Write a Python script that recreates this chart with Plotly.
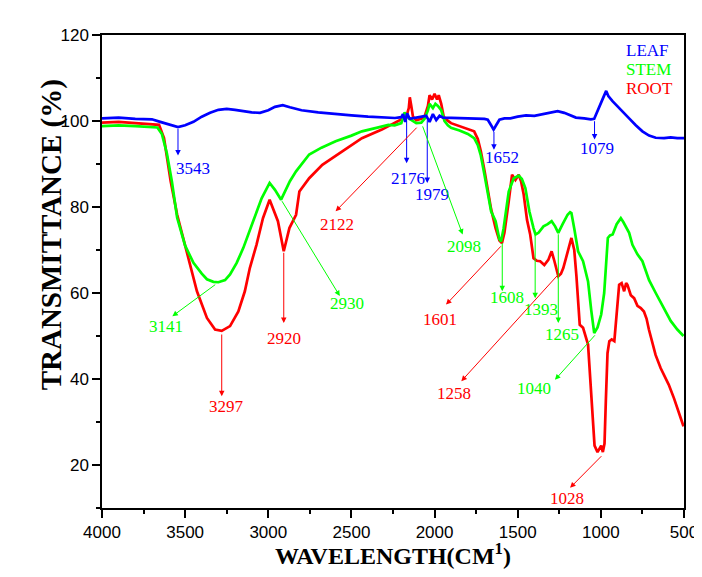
import plotly.graph_objects as go

# ---------------- data ----------------
leaf_wn = [4000, 3900, 3800, 3700, 3650, 3600, 3543, 3500, 3450, 3400, 3350, 3300, 3250, 3200,
           3150, 3100, 3050, 3000, 2960, 2913, 2870, 2800, 2700, 2600, 2500, 2400, 2300, 2238,
           2200, 2190, 2176, 2165, 2150, 2100, 2050, 2030, 2010, 1990, 1970, 1950, 1900, 1800,
           1700, 1680, 1660, 1645, 1630, 1610, 1580, 1544, 1500, 1450, 1400, 1350, 1300, 1260,
           1220, 1180, 1150, 1100, 1060, 1040, 1010, 985, 968, 955, 930, 909, 870, 830, 790,
           750, 710, 670, 620, 580, 540, 500]
leaf_t = [100.6, 100.8, 100.5, 100.4, 99.8, 99.2, 98.6, 99.0, 99.8, 101.0, 101.9, 102.6, 102.8, 102.6,
          102.3, 102.0, 101.9, 102.5, 103.3, 103.7, 103.2, 102.5, 102.0, 101.6, 101.3, 101.0, 100.8, 100.7,
          100.9, 101.6, 99.8, 101.8, 100.5, 100.9, 101.2, 99.8, 101.6, 100.2, 101.2, 100.8, 100.7, 100.6,
          100.5, 100.3, 99.0, 98.0, 99.0, 100.3, 100.6, 100.6, 101.0, 101.3, 101.2, 101.6, 102.0, 102.3,
          101.9, 101.2, 100.8, 100.6, 100.4, 100.5, 103.0, 105.5, 107.0, 105.8, 104.6, 103.8, 102.3, 100.6, 99.0,
          97.6, 96.6, 96.1, 96.0, 96.2, 96.0, 96.0]

stem_wn = [4000, 3900, 3800, 3700, 3667, 3640, 3610, 3580, 3548, 3500, 3450, 3400, 3369, 3330,
           3300, 3260, 3230, 3190, 3150, 3091, 3040, 2992, 2960, 2923, 2900, 2870, 2833, 2790,
           2754, 2680, 2595, 2500, 2437, 2350, 2278, 2240, 2200, 2180, 2165, 2150, 2110, 2080,
           2060, 2040, 2030, 2010, 1995, 1980, 1960, 1940, 1920, 1901, 1850, 1800, 1762, 1740,
           1722, 1700, 1683, 1660, 1633, 1610, 1600, 1585, 1554, 1524, 1494, 1475, 1454, 1430,
           1405, 1393, 1375, 1345, 1320, 1296, 1275, 1256, 1230, 1200, 1185, 1177, 1160, 1137,
           1107, 1077, 1058, 1040, 1020, 998, 980, 958, 945, 929, 905, 880, 865, 850, 830, 810,
           780, 750, 710, 670, 632, 580, 540, 503]
stem_t = [98.8, 99.0, 98.8, 98.6, 98.5, 97.0, 92.5, 86.0, 77.5, 71.0, 67.0, 64.5, 63.2, 62.6,
          62.5, 63.0, 64.3, 67.0, 70.5, 76.7, 82.0, 85.6, 84.0, 81.7, 83.5, 86.0, 88.3, 90.5,
          92.2, 93.8, 95.3, 96.6, 97.6, 98.4, 99.1, 99.0, 99.5, 102.0, 101.0, 100.5, 99.5, 99.6,
          100.5, 102.5, 104.0, 103.0, 104.0, 103.5, 102.5, 100.0, 99.0, 98.4, 97.8, 97.0, 96.0, 94.4,
          92.0, 87.5, 83.5, 79.0, 76.7, 72.5, 72.0, 75.0, 83.6, 86.7, 87.3, 86.5, 84.4, 79.0,
          75.1, 73.6, 74.0, 75.5, 76.0, 76.7, 75.5, 74.0, 76.0, 78.2, 78.8, 78.6, 75.0, 69.7,
          67.4, 62.7, 56.0, 50.7, 52.0, 55.0, 60.0, 72.8, 73.4, 73.6, 76.0, 77.4, 76.5, 75.5, 74.0, 71.2,
          69.0, 67.4, 63.0, 60.0, 57.3, 53.5, 51.5, 50.0]

root_wn = [4000, 3900, 3800, 3700, 3667, 3657, 3627, 3587, 3548, 3498, 3448, 3429, 3369, 3320,
           3280, 3230, 3180, 3141, 3111, 3071, 3032, 2992, 2942, 2907, 2873, 2833, 2813, 2754,
           2675, 2556, 2437, 2317, 2238, 2220, 2200, 2170, 2155, 2149, 2140, 2130, 2110, 2080,
           2060, 2040, 2030, 2015, 2000, 1985, 1975, 1960, 1945, 1925, 1901, 1850, 1821, 1790,
           1762, 1740, 1722, 1700, 1683, 1660, 1633, 1610, 1595, 1580, 1554, 1534, 1514, 1494,
           1480, 1464, 1444, 1425, 1405, 1385, 1365, 1340, 1316, 1296, 1280, 1256, 1240, 1226,
           1200, 1177, 1160, 1147, 1127, 1107, 1077, 1058, 1038, 1020, 1008, 998, 988, 978, 970,
           960, 949, 935, 919, 905, 890, 875, 860, 848, 840, 820, 800, 780, 760, 741, 725, 711,
           690, 671, 640, 610, 592, 560, 530, 503]
root_t = [99.6, 99.8, 99.5, 99.3, 99.1, 99.1, 96.0, 86.0, 78.2, 70.5, 62.7, 60.4, 54.2, 51.5,
          51.2, 52.3, 55.7, 60.4, 65.8, 71.2, 77.4, 81.7, 76.7, 69.7, 75.1, 78.2, 83.6, 86.7,
          89.8, 93.0, 96.0, 98.0, 99.6, 99.8, 100.2, 101.0, 103.0, 105.5, 103.5, 101.0, 100.2, 100.5,
          101.0, 103.5, 106.0, 105.0, 106.3, 105.0, 106.0, 104.0, 101.0, 100.2, 99.5, 98.8, 98.4, 98.0,
          97.6, 95.8, 93.0, 88.5, 84.4, 79.5, 75.1, 72.2, 71.6, 74.0, 81.3, 87.5, 86.3, 87.5,
          86.0, 82.9, 77.0, 73.6, 68.1, 67.5, 67.4, 66.5, 67.7, 69.7, 67.5, 63.9, 64.5, 65.8,
          69.5, 72.8, 70.0, 64.0, 52.6, 51.9, 48.0, 37.0, 24.5, 23.0, 23.8, 24.5, 23.0, 25.0, 35.0,
          46.0, 48.8, 49.2, 48.8, 55.0, 61.9, 62.3, 60.4, 62.3, 61.9, 59.5, 58.8, 57.0, 56.5, 55.7, 54.0, 51.5,
          48.0, 45.6, 42.5, 40.0, 38.7, 35.5, 32.0, 29.0]

series_names = ["LEAF", "STEM", "ROOT"]
series_colors = ["#0000FF", "#00FF00", "#FF0000"]

x_ticks = [4000, 3500, 3000, 2500, 2000, 1500, 1000, 500]
y_ticks = [20, 40, 60, 80, 100, 120]

# peak labels: text, curve point (wn, T), arrow head (wn, T), label centre (wn, T), series index
peak_text = ["3543", "2176", "1979", "1652", "1079",
             "3141", "2930", "2098", "1608", "1393", "1265", "1040",
             "3297", "2920", "2122", "1601", "1258", "1028"]
peak_series = [0, 0, 0, 0, 0,
               1, 1, 1, 1, 1, 1, 1,
               2, 2, 2, 2, 2, 2]
peak_wn = [3543, 2168, 2044, 1643, 1038,
           3310, 2923, 2075, 1593, 1395, 1256, 1028,
           3280, 2907, 2099, 1593, 1256, 988]
peak_t = [98.5, 100.5, 100.5, 97.8, 100.3,
          62.2, 81.7, 99.1, 72.0, 73.6, 74.0, 50.5,
          50.7, 69.7, 98.8, 71.2, 64.3, 22.4]
head_wn = [3543, 2168, 2044, 1643, 1038,
           3577, 2570, 1831, 1593, 1395, 1256, 1276,
           3280, 2907, 2595, 1931, 1839, 1185]
head_t = [92.0, 90.2, 85.6, 93.3, 95.7,
          54.6, 59.3, 73.6, 60.4, 58.8, 53.0, 39.8,
          36.0, 53.0, 79.0, 57.3, 39.5, 14.7]
label_wn = [3450, 2161, 2018, 1595, 1021,
            3617, 2525, 1821, 1564, 1360, 1236, 1405,
            3250, 2903, 2585, 1970, 1881, 1206]
label_t = [89.0, 86.7, 82.9, 91.4, 93.7,
           52.2, 57.5, 70.9, 59.0, 56.1, 50.3, 37.9,
           33.6, 49.5, 75.9, 53.8, 36.7, 12.3]

# ---------------- figure ----------------
fig = go.Figure()
traces = [(root_wn, root_t, 2), (stem_wn, stem_t, 1), (leaf_wn, leaf_t, 0)]
for wn, t, i in traces:
    fig.add_trace(go.Scatter(x=wn, y=t, mode="lines", name=series_names[i],
                             line=dict(color=series_colors[i], width=2.7),
                             showlegend=False, hoverinfo="skip"))

ann = []
for k, txt in enumerate(peak_text):
    c = series_colors[peak_series[k]]
    ann.append(dict(x=head_wn[k], y=head_t[k], ax=peak_wn[k], ay=peak_t[k],
                    xref="x", yref="y", axref="x", ayref="y", text="",
                    showarrow=True, arrowhead=2, arrowsize=1.1, arrowwidth=1,
                    arrowcolor=c, standoff=0, startstandoff=0))
    ann.append(dict(x=label_wn[k], y=label_t[k], xref="x", yref="y", text=txt,
                    showarrow=False,
                    font=dict(family="Liberation Serif, Times New Roman, serif", size=17, color=c)))

legend_y = [116.3, 111.9, 107.6]
for i, nm in enumerate(series_names):
    ann.append(dict(x=857, y=legend_y[i], xref="x", yref="y", text=nm, showarrow=False,
                    xanchor="left", borderpad=0,
                    font=dict(family="Liberation Serif, Times New Roman, serif", size=17,
                              color=series_colors[i])))

ann.append(dict(x=0.5, y=-0.097, xref="paper", yref="paper", showarrow=False,
                yanchor="middle",
                text="<b>WAVELENGTH(CM<sup>1</sup>)</b>",
                font=dict(family="Liberation Serif, Times New Roman, serif", size=24, color="black")))
ann.append(dict(x=-0.119, y=0.577, xref="paper", yref="paper", showarrow=False, textangle=-90,
                text="<b>TRANSMITTANCE (%)</b>",
                font=dict(family="Liberation Serif, Times New Roman, serif", size=29, color="black")))

axis_common = dict(showline=True, linecolor="black", linewidth=1.5, mirror=True,
                   ticks="outside", tickcolor="black", tickwidth=1.5, ticklen=8,
                   showgrid=False, zeroline=False,
                   tickfont=dict(family="Liberation Sans, Arial, sans-serif", size=17, color="black"))

fig.update_layout(
    width=702, height=577,
    margin=dict(l=94, r=21, t=27, b=77),
    paper_bgcolor="white", plot_bgcolor="white",
    annotations=ann,
    xaxis=dict(range=[4000, 500], tickvals=x_ticks,
               minor=dict(dtick=250, tick0=500, ticks="outside", ticklen=4, tickwidth=1.5, tickcolor="black"),
               **axis_common),
    yaxis=dict(range=[10, 120], tickvals=y_ticks,
               minor=dict(dtick=10, tick0=0, ticks="outside", ticklen=4, tickwidth=1.5, tickcolor="black"),
               **axis_common),
)

fig.write_html("out.html")
